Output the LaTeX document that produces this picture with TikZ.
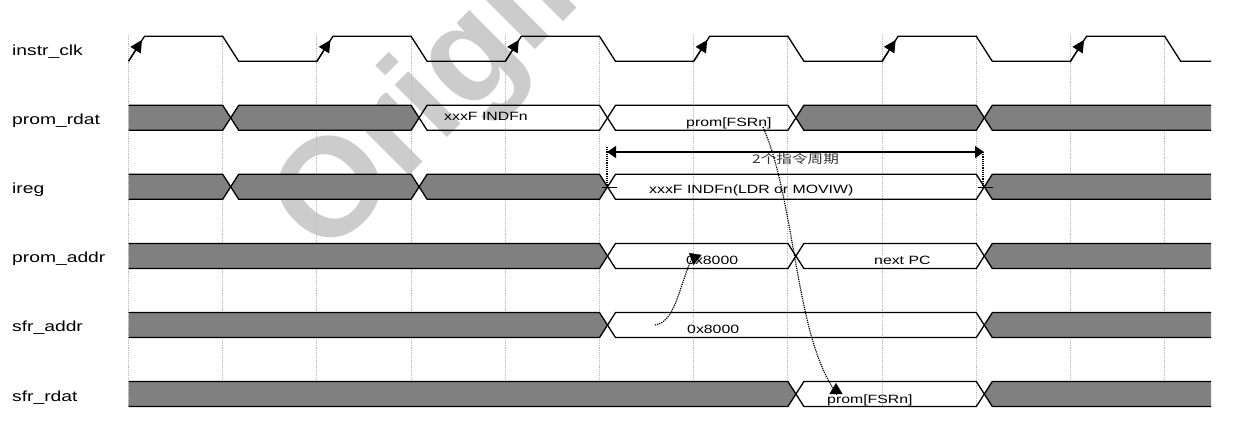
\documentclass[tikz,border=0pt]{standalone}
\usepackage{fontspec}
\setmainfont[FakeStretch=1.32]{Liberation Sans}
\newfontfamily\cjk[FakeStretch=1.3]{Noto Sans CJK SC}
\newfontfamily\markfont{Liberation Sans}
\usetikzlibrary{arrows.meta}
\definecolor{busgray}{HTML}{808080}
\definecolor{markgray}{HTML}{CCCCCC}
\definecolor{gridgray}{HTML}{B8B8B8}
\tikzset{
  sigline/.style={line width=1.3pt,black},
  gridline/.style={line width=0.9pt,gridgray,densely dotted},
  risetip/.style={line width=1.3pt,-{Triangle[length=12pt,width=12pt]}},
  linkline/.style={line width=1.2pt,densely dotted},
  linktip/.style={-{Triangle[length=11pt,width=13pt]}},
  dimline/.style={line width=1.1pt,{Triangle[length=9pt,width=12pt]}-{Triangle[length=9pt,width=12pt]}},
  signame/.style={anchor=base west,inner sep=0pt,font=\fontsize{14.6}{16}\selectfont},
  busval/.style={anchor=base west,inner sep=0pt,font=\fontsize{12}{14}\selectfont}
}
\begin{document}
\begin{tikzpicture}[x=1pt,y=-1pt]
\useasboundingbox (0,0) rectangle (1248,446);
\clip (0,0) rectangle (1248,446);
% the watermark
\node[anchor=base west,inner sep=0pt,rotate=45,markgray,font=\markfont\bfseries\fontsize{140}{140}\selectfont] (mark) at (325,260) {Original};
% the grid
\foreach \k in {0,...,11}
  \draw[gridline] (128.5+94.2*\k,35) -- (128.5+94.2*\k,407);
% the signal names
\foreach \nm/\txt/\r in {clk/instr\_clk/0,rdat/prom\_rdat/1,ireg/ireg/2,addr/prom\_addr/3,sfra/sfr\_addr/4,sfrd/sfr\_rdat/5}
  \node[signame] (name\nm) at (12,56+69*\r) {\txt};
% clock and buses, cut at both ends
\begin{scope}
\clip (128.5,0) rectangle (1211,446);
\foreach \k in {0,2,...,10} {
  \pgfmathsetmacro\xa{128.5+94.2*\k}
  \pgfmathsetmacro\xb{128.5+94.2*(\k+1)}
  \pgfmathsetmacro\xc{128.5+94.2*(\k+2)}
  \draw[sigline] (\xa,61.3) -- (\xa+16,36.3) -- (\xb,36.3) -- (\xb+16,61.3) -- (\xc,61.3);
}
\foreach \rowy/\segs in {
  105.3/{-1/1/busgray,1/3/busgray,3/5/none,5/7/none,7/9/busgray,9/13/busgray},
  174.3/{-1/1/busgray,1/3/busgray,3/5/busgray,5/9/none,9/13/busgray},
  243.5/{-1/5/busgray,5/7/none,7/9/none,9/13/busgray},
  312.6/{-1/5/busgray,5/9/none,9/13/busgray},
  381.5/{-1/7/busgray,7/9/none,9/13/busgray}} {
  \foreach \ka/\kb/\busfill in \segs {
    \pgfmathsetmacro\xa{128.5+94.2*\ka}
    \pgfmathsetmacro\xb{128.5+94.2*\kb}
    \draw[sigline,fill=\busfill] (\xa+8,\rowy+12.5) -- (\xa+16,\rowy) -- (\xb,\rowy) -- (\xb+8,\rowy+12.5) -- (\xb,\rowy+25) -- (\xa+16,\rowy+25) -- cycle;
  }
}
\end{scope}
% rising edge marks
\foreach \k in {0,2,...,10} {
  \coordinate (rise\k) at (128.5+94.2*\k,61.3);
  \coordinate (risetop\k) at (128.5+94.2*\k+13.5,40);
  \draw[risetip] (rise\k) -- (risetop\k);
}
% bus values
\node[busval] (rdatval) at (444,121) {xxxF INDFn};
\node[busval] (rdatfsr) at (686,127) {prom[FSRn]};
\node[busval] (iregval) at (649,194) {xxxF INDFn(LDR or MOVIW)};
\node[busval] (addrval) at (686,265) {0x8000};
\node[busval] (addrnext) at (874,265) {next PC};
\node[busval] (sfraval) at (687,334) {0x8000};
\node[busval] (sfrdval) at (827,403) {prom[FSRn]};
% two cycle span
\coordinate (dimL) at (607,152);
\coordinate (dimR) at (984,152);
\coordinate (dimLtop) at (607,147);
\coordinate (dimLbot) at (607,187);
\coordinate (dimRbot) at (983,187);
\coordinate (dimRtop) at (983,152);
\draw[dimline] (dimL) -- (dimR);
\draw[linkline] (dimLtop) -- (dimLbot);
\draw[linkline] (dimRtop) -- (dimRbot);
\coordinate (tickLa) at (602,187);
\coordinate (tickLb) at (617,187);
\coordinate (tickRa) at (978,187);
\coordinate (tickRb) at (993,187);
\draw[line width=0.6pt] (tickLa) -- (tickLb);
\draw[line width=0.6pt] (tickRa) -- (tickRb);
\node[anchor=base west,inner sep=0pt,font=\cjk\fontsize{12}{14}\selectfont,black!80] (dimtxt) at (752,164) {2个指令周期};
% dependency curves
\coordinate (linkAs) at (655,325);
\coordinate (linkAe) at (692,258);
\coordinate (linkAh) at (697.5,260);
\coordinate (linkAt) at (689,253);
\draw[linkline] (linkAs) .. controls (675,322) and (678,290) .. (linkAe);
\draw[linktip] (linkAh) -- (linkAt);
\coordinate (linkBs) at (763,127);
\coordinate (linkBe) at (833,388);
\coordinate (linkBh) at (836,394);
\coordinate (linkBt) at (836,383);
\draw[linkline] (linkBs) .. controls (795,200) and (795,330) .. (linkBe);
\draw[linktip] (linkBh) -- (linkBt);
\end{tikzpicture}
\end{document}
